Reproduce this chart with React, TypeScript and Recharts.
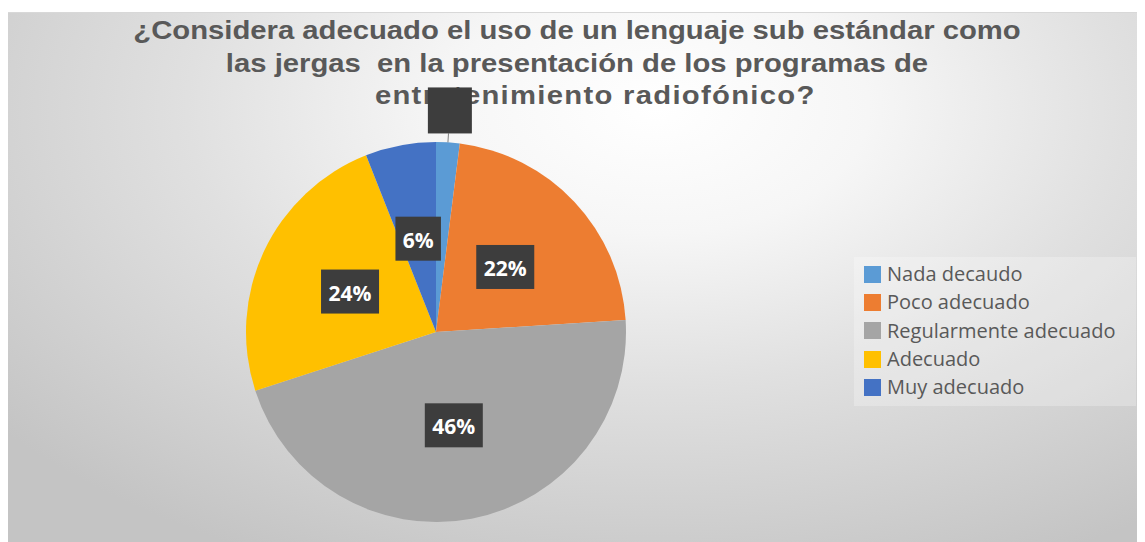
import React from 'react';
import { PieChart, Pie, Cell, Legend } from 'recharts';

const categories = ['Nada decaudo', 'Poco adecuado', 'Regularmente adecuado', 'Adecuado', 'Muy adecuado'];
const values = [2, 22, 46, 24, 6];
const colors = ['#5B9BD5', '#ED7D31', '#A5A5A5', '#FFC000', '#4472C4'];
const titleLines = [
  '¿Considera adecuado el uso de un lenguaje sub estándar como',
  'las jergas  en la presentación de los programas de',
  'entretenimiento radiofónico?',
];

const data = categories.map((name, i) => ({ name, value: values[i] }));
const RAD = Math.PI / 180;
const W = 1138;
const H = 530;

const renderLabel = (props: any) => {
  const { cx, cy, midAngle, outerRadius, percent, index } = props;
  const text = `${Math.round(percent * 100)}%`;
  const bw = (text.length - 1) * 12.5 + 19 + 14;
  const bh = 44;
  const cos = Math.cos(-midAngle * RAD);
  const sin = Math.sin(-midAngle * RAD);
  if (percent < 0.05) {
    const r = outerRadius + 31;
    const x = cx + r * cos;
    const y = cy + r * sin;
    return (
      <g key={`lbl-${index}`}>
        <line
          x1={cx + outerRadius * cos}
          y1={cy + outerRadius * sin}
          x2={cx + (outerRadius + 9) * cos}
          y2={cy + (outerRadius + 9) * sin}
          stroke="#7f7f7f"
          strokeWidth={1}
        />
        <rect x={x - 22} y={y - bh / 2 - 2} width={44} height={bh + 2} fill="#3d3d3d" />
      </g>
    );
  }
  const r = outerRadius * 0.5;
  const x = cx + r * cos;
  const y = cy + r * sin;
  return (
    <g key={`lbl-${index}`}>
      <rect x={x - bw / 2} y={y - bh / 2} width={bw} height={bh} fill="#3d3d3d" />
      <text
        x={x}
        y={y + 1}
        textAnchor="middle"
        dominantBaseline="central"
        fill="#ffffff"
        fontFamily="'Open Sans', sans-serif"
        fontWeight={700}
        fontSize={21}
      >
        {text}
      </text>
    </g>
  );
};

const renderLegend = (props: any) => {
  const payload = [...(props.payload || [])].sort(
    (a: any, b: any) => categories.indexOf(a.value) - categories.indexOf(b.value)
  );
  return (
    <div
      style={{
        background: 'rgba(255,255,255,0.25)',
        width: 282,
        height: 149,
        boxSizing: 'border-box',
        paddingTop: 3,
        paddingLeft: 10,
      }}
    >
      {payload.map((p: any, i: number) => (
        <div key={i} style={{ display: 'flex', alignItems: 'center', height: 28.3 }}>
          <div style={{ width: 17, height: 17, background: p.color, marginRight: 6 }} />
          <span
            style={{
              fontFamily: "'Open Sans', sans-serif",
              fontSize: 20,
              color: '#595959',
              lineHeight: '28px',
            }}
          >
            {p.value}
          </span>
        </div>
      ))}
    </div>
  );
};

export default function App() {
  return (
    <div
      style={{
        position: 'relative',
        width: W,
        height: H,
        marginTop: 4,
        marginLeft: -1,
        boxSizing: 'border-box',
        borderTop: '1px solid #d8d8d8',
        borderLeft: '1px solid #d8d8d8',
        background:
          'radial-gradient(ellipse 75% 95% at 57% 18%, #ffffff 0%, #f6f6f6 25%, #e0e0e0 55%, #c4c4c4 100%)',
        overflow: 'hidden',
      }}
    >
      <div
        style={{
          position: 'absolute',
          top: 1,
          left: 0,
          width: W,
          fontFamily: "'Liberation Sans', Arial, sans-serif",
          fontWeight: 700,
          fontSize: 25,
          lineHeight: '32.5px',
          color: '#595959',
          textAlign: 'center',
          whiteSpace: 'pre',
        }}
      >
        {titleLines.map((t, i) => (
          <div
            key={i}
            style={{
              transform: 'scaleX(1.17)',
              transformOrigin: i === 2 ? '613px 0' : '569px 0',
              paddingLeft: i === 2 ? 44 : 0,
              letterSpacing: i === 2 ? 1.1 : 0,
            }}
          >
            {t}
          </div>
        ))}
      </div>
      <div style={{ position: 'absolute', top: 0, left: 0 }}>
        <PieChart width={W} height={H} margin={{ top: 0, right: 0, bottom: 0, left: 0 }}>
          <Pie
            data={data}
            dataKey="value"
            nameKey="name"
            cx={428}
            cy={319}
            outerRadius={190}
            startAngle={90}
            endAngle={-270}
            stroke="none"
            label={renderLabel}
            labelLine={false}
            isAnimationActive={false}
          >
            {data.map((d, i) => (
              <Cell key={d.name} fill={colors[i]} />
            ))}
          </Pie>
          <Legend
            content={renderLegend}
            layout="vertical"
            wrapperStyle={{ position: 'absolute', left: 846, top: 244, width: 282, bottom: 'auto' }}
          />
        </PieChart>
      </div>
    </div>
  );
}
